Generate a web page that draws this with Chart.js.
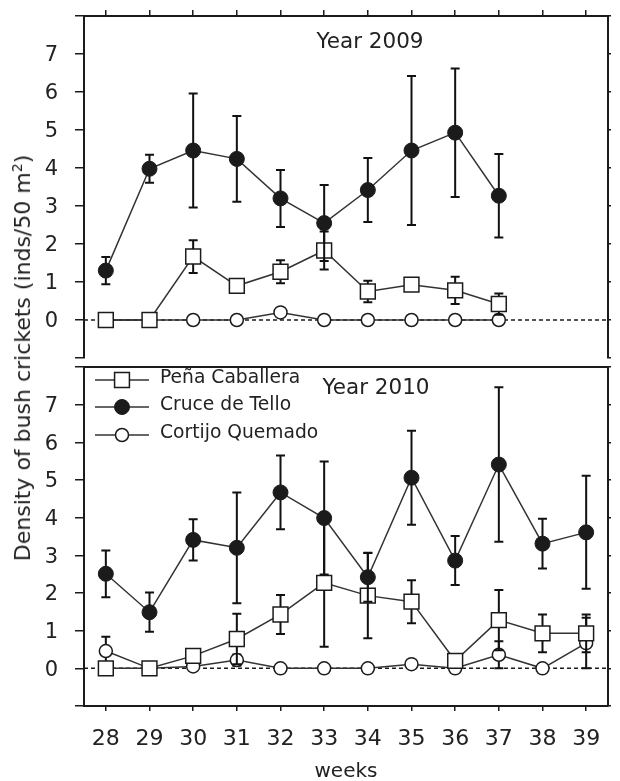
<!DOCTYPE html>
<html>
<head>
<meta charset="utf-8">
<script src="https://cdn.jsdelivr.net/npm/chart.js@4.4.1/dist/chart.umd.min.js"></script>
<style>
html,body{margin:0;padding:0;background:#fff;}
#wrap{position:relative;width:620px;height:781px;overflow:hidden;background:#fff;}
#c1{position:absolute;left:0;top:0;width:620px;height:370px;}
#c2{position:absolute;left:0;top:355px;width:620px;height:426px;}
#ytitle{position:absolute;left:23px;top:358px;transform:translate(-50%,-50%) rotate(-90deg);white-space:nowrap;font-family:"DejaVu Sans",Verdana,sans-serif;font-size:22px;color:#222;line-height:26px;}
#ytitle sup{font-size:14px;line-height:0;vertical-align:8px;}
</style>
</head>
<body>
<div id="wrap">
<canvas id="c1" width="620" height="370"></canvas>
<canvas id="c2" width="620" height="426"></canvas>
<div id="ytitle">Density of bush crickets (inds/50 m<sup>2</sup>)</div>
</div>
<script>
// ---------- data ----------
const seriesNames = ['Peña Caballera', 'Cruce de Tello', 'Cortijo Quemado'];
const panelTitles = ['Year 2009', 'Year 2010'];
const weekTicks = [28, 29, 30, 31, 32, 33, 34, 35, 36, 37, 38, 39];
const yTickValues = [-1, 0, 1, 2, 3, 4, 5, 6, 7, 8];
const yTickLabels = ['', '0', '1', '2', '3', '4', '5', '6', '7', ''];

const weeks2009 = [28, 29, 30, 31, 32, 33, 34, 35, 36, 37];
const pena2009 = [0, 0, 1.67, 0.9, 1.27, 1.83, 0.75, 0.93, 0.78, 0.42];
const penaErr2009 = [0, 0, 0.43, 0, 0.3, 0.5, 0.28, 0, 0.36, 0.28];
const cruce2009 = [1.3, 3.98, 4.46, 4.24, 3.2, 2.55, 3.42, 4.46, 4.93, 3.27];
const cruceErr2009 = [0.36, 0.37, 1.5, 1.13, 0.75, 1.0, 0.84, 1.96, 1.69, 1.1];
const cortijo2009 = [0, 0, 0, 0, 0.2, 0, 0, 0, 0, 0];
const cortijoErr2009 = [0, 0, 0, 0, 0, 0, 0, 0, 0, 0];

const weeks2010 = [28, 29, 30, 31, 32, 33, 34, 35, 36, 37, 38, 39];
const pena2010 = [0, 0, 0.33, 0.78, 1.43, 2.27, 1.93, 1.77, 0.2, 1.28, 0.93, 0.93];
const penaErr2010 = [0, 0, 0, 0.67, 0.52, 1.7, 1.13, 0.57, 0, 0.8, 0.5, 0.5];
const cruce2010 = [2.51, 1.49, 3.41, 3.2, 4.67, 3.99, 2.42, 5.06, 2.86, 5.41, 3.31, 3.61];
const cruceErr2010 = [0.62, 0.52, 0.55, 1.47, 0.98, 1.5, 0.65, 1.25, 0.65, 2.05, 0.66, 1.5];
const cortijo2010 = [0.46, 0, 0.05, 0.22, 0, 0, 0, 0.11, 0, 0.36, 0, 0.67];
const cortijoErr2010 = [0.38, 0, 0, 0.15, 0, 0, 0, 0, 0, 0.36, 0, 0.67];

// ---------- styling ----------
Chart.defaults.font.family = "'DejaVu Sans', Verdana, sans-serif";
Chart.defaults.color = '#222';
const INK = '#1b1b1b';
const LINE = '#333333';
const FONTFAM = "'DejaVu Sans', Verdana, sans-serif";

const styles = [
  {pointStyle: 'rect', pointRadius: 10.5, pointBackgroundColor: '#fff', pointBorderColor: INK, pointBorderWidth: 1.5, order: 1},
  {pointStyle: 'circle', pointRadius: 7.5, pointBackgroundColor: INK, pointBorderColor: INK, pointBorderWidth: 1, order: 0},
  {pointStyle: 'circle', pointRadius: 6.5, pointBackgroundColor: '#fff', pointBorderColor: INK, pointBorderWidth: 1.5, order: 2}
];

function makeDataset(idx, weeks, vals, errs) {
  const st = styles[idx];
  return Object.assign({
    label: seriesNames[idx],
    data: weeks.map((w, i) => ({x: w, y: vals[i]})),
    errors: errs,
    borderColor: LINE, borderWidth: 1.5, tension: 0, fill: false,
    pointHoverRadius: st.pointRadius,
    xAxisID: 'x', yAxisID: 'y'
  }, st);
}

const errorBars = {
  id: 'errorBars',
  beforeDatasetDraw(chart, args) {
    const ds = chart.data.datasets[args.index];
    if (!ds.errors) return;
    const ys = chart.scales.y;
    const ctx = chart.ctx;
    ctx.save();
    ctx.strokeStyle = '#111';
    ctx.lineWidth = 2;
    args.meta.data.forEach((pt, i) => {
      const e = ds.errors[i];
      if (!e) return;
      const v = ds.data[i].y;
      const yt = ys.getPixelForValue(v + e);
      const yb = ys.getPixelForValue(v - e);
      const x = pt.x;
      ctx.beginPath();
      ctx.moveTo(x, yt); ctx.lineTo(x, yb);
      ctx.moveTo(x - 4.5, yt); ctx.lineTo(x + 4.5, yt);
      ctx.moveTo(x - 4.5, yb); ctx.lineTo(x + 4.5, yb);
      ctx.stroke();
    });
    ctx.restore();
  }
};

function drawMarker(ctx, st, x, y) {
  ctx.save();
  ctx.fillStyle = st.pointBackgroundColor;
  ctx.strokeStyle = st.pointBorderColor;
  ctx.lineWidth = st.pointBorderWidth;
  ctx.beginPath();
  if (st.pointStyle === 'rect') {
    const h = st.pointRadius * Math.SQRT1_2;
    ctx.rect(x - h, y - h, 2 * h, 2 * h);
  } else {
    ctx.arc(x, y, st.pointRadius, 0, Math.PI * 2);
  }
  ctx.fill();
  ctx.stroke();
  ctx.restore();
}

const decor = {
  id: 'decor',
  beforeDatasetsDraw(chart) {
    const {ctx, chartArea: a, scales: {y}} = chart;
    const y0 = y.getPixelForValue(0);
    ctx.save();
    ctx.setLineDash([4, 3]);
    ctx.lineWidth = 1.5;
    ctx.strokeStyle = INK;
    ctx.beginPath();
    ctx.moveTo(a.left, y0); ctx.lineTo(a.right, y0);
    ctx.stroke();
    ctx.restore();
  },
  afterDraw(chart, args, opts) {
    const ctx = chart.ctx;
    ctx.save();
    ctx.fillStyle = '#222';
    ctx.font = '21.5px ' + FONTFAM;
    ctx.textAlign = 'center';
    ctx.textBaseline = 'middle';
    ctx.fillText(opts.title, opts.tx, opts.ty);
    if (opts.legend) {
      const rows = opts.legend.rows;
      seriesNames.forEach((name, i) => {
        const ty = rows[i];
        const my = ty + 2;
        ctx.strokeStyle = LINE;
        ctx.lineWidth = 1.5;
        ctx.beginPath();
        ctx.moveTo(opts.legend.x0, my); ctx.lineTo(opts.legend.x1, my);
        ctx.stroke();
        drawMarker(ctx, styles[i], (opts.legend.x0 + opts.legend.x1) / 2, my);
        ctx.fillStyle = '#222';
        ctx.font = '18.7px ' + FONTFAM;
        ctx.textAlign = 'left';
        ctx.textBaseline = 'middle';
        ctx.fillText(name, opts.legend.tx, ty);
      });
    }
    ctx.restore();
  }
};

function yAxis(pos) {
  const left = pos === 'left';
  return {
    type: 'linear', position: pos, min: -1, max: 8,
    afterBuildTicks: s => { s.ticks = yTickValues.map(v => ({value: v})); },
    ticks: left ? {callback: (v, i) => yTickLabels[i], font: {size: 21}, color: '#222', padding: 17, labelOffset: 2}
                : {display: false},
    grid: {drawOnChartArea: false, drawTicks: true, tickLength: left ? 9 : 3, color: INK, lineWidth: 1.5},
    border: {display: true, color: INK, width: 2},
    afterFit: s => { s.width = left ? 84 : 3; s.paddingTop = 0; s.paddingBottom = 0; }
  };
}

function xAxis(pos, opts) {
  return Object.assign({
    type: 'linear', position: pos, min: 27.5, max: 39.5,
    afterBuildTicks: s => { s.ticks = weekTicks.map(v => ({value: v})); },
    border: {display: true, color: INK, width: 2}
  }, opts);
}

const common = {
  responsive: false,
  animation: false,
  events: [],
  plugins: {legend: {display: false}, tooltip: {enabled: false}}
};

// ---------- top panel (2009) ----------
new Chart(document.getElementById('c1'), {
  type: 'line',
  data: {
    datasets: [
      makeDataset(0, weeks2009, pena2009, penaErr2009),
      makeDataset(1, weeks2009, cruce2009, cruceErr2009),
      makeDataset(2, weeks2009, cortijo2009, cortijoErr2009)
    ]
  },
  options: Object.assign({}, common, {
    layout: {padding: {left: 0, right: 0, top: 0, bottom: 9}},
    plugins: Object.assign({}, common.plugins, {decor: {title: panelTitles[0], tx: 370, ty: 42}}),
    scales: {
      x: xAxis('top', {
        ticks: {display: false},
        grid: {drawOnChartArea: false, drawTicks: true, tickLength: 6, color: INK, lineWidth: 1.5},
        afterFit: s => { s.height = 16; s.paddingLeft = 0; s.paddingRight = 0; }
      }),
      y: yAxis('left'),
      yr: yAxis('right')
    }
  }),
  plugins: [errorBars, decor]
});

// ---------- bottom panel (2010) ----------
new Chart(document.getElementById('c2'), {
  type: 'line',
  data: {
    datasets: [
      makeDataset(0, weeks2010, pena2010, penaErr2010),
      makeDataset(1, weeks2010, cruce2010, cruceErr2010),
      makeDataset(2, weeks2010, cortijo2010, cortijoErr2010)
    ]
  },
  options: Object.assign({}, common, {
    layout: {padding: 0},
    plugins: Object.assign({}, common.plugins, {
      decor: {title: panelTitles[1], tx: 376, ty: 33, legend: {rows: [23, 50, 78], x0: 95, x1: 149, tx: 160}}
    }),
    scales: {
      x: xAxis('bottom', {
        ticks: {font: {size: 22}, color: '#222', padding: 15},
        grid: {drawOnChartArea: false, drawTicks: true, tickLength: 5, color: INK, lineWidth: 1.5},
        title: {display: true, text: 'weeks', font: {size: 20}, color: '#222', padding: {top: 0, bottom: -3}},
        afterFit: s => { s.height = 75; s.paddingLeft = 0; s.paddingRight = 0; }
      }),
      xt: xAxis('top', {
        ticks: {display: false},
        grid: {display: false},
        afterFit: s => { s.height = 6; s.paddingLeft = 0; s.paddingRight = 0; }
      }),
      y: yAxis('left'),
      yr: yAxis('right')
    }
  }),
  plugins: [errorBars, decor]
});
</script>
</body>
</html>
